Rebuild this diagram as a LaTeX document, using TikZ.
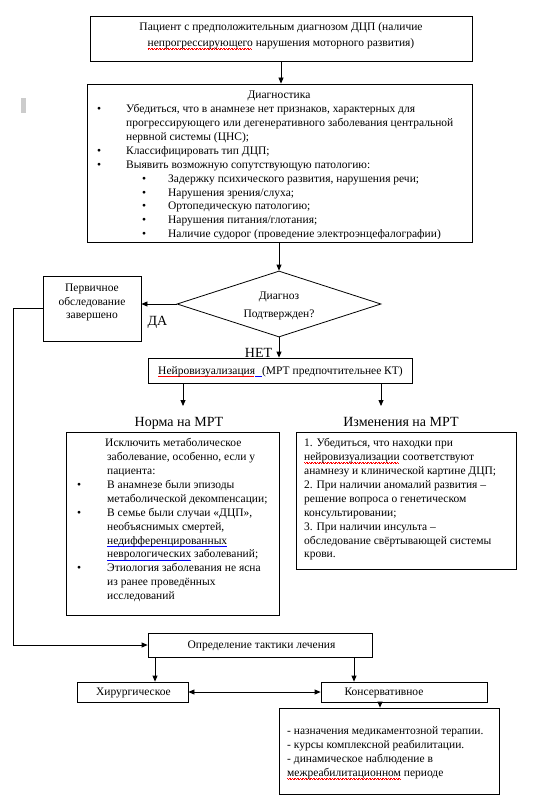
\documentclass[tikz,border=0pt]{standalone}
\usepackage{fontspec}
\setmainfont{Liberation Serif}
\usepackage{xcolor}
\usetikzlibrary{shapes.geometric,arrows.meta,positioning}
\newcommand{\wavy}[2]{\leavevmode\setbox0\hbox{#2}\rlap{\color{#1}\hbox to \wd0{\leaders\hbox{\rule[-2.2pt]{0.8pt}{0.4pt}\rule[-2.8pt]{0.8pt}{0.4pt}}\hfill}}\box0\relax}
\newcommand{\redwave}{\wavy{red}}
\newcommand{\bluewave}{\wavy{blue}}
\newcommand{\lbul}[1]{\makebox[#1][l]{\textbullet}}

\begin{document}
\begin{tikzpicture}[x=1pt,y=-1pt,
            box/.style={draw,line width=0.8pt,inner sep=0pt},
            txt/.style={inner sep=0pt,font=\fontsize{11.5}{13.9}\selectfont,align=left},
            ttl/.style={inner sep=0pt,font=\fontsize{14}{16}\selectfont},
            arr/.style={-{Triangle[length=6pt,width=5pt]},line width=0.8pt},
            arrb/.style={{Triangle[length=6pt,width=5pt]}-{Triangle[length=6pt,width=5pt]},line width=0.8pt}]
            \useasboundingbox (0,0) rectangle (541,799);
            %Mark
            \fill[gray!40] (20.7,98) rectangle (26,113);
            %Top
            \node[box,minimum width=382,minimum height=45] (pat) at (281,38.5) {};
            \node[txt,align=center,font=\fontsize{11.5}{15.5}\selectfont,anchor=north] (pattxt) at (281,19.6)
                {\strut Пациент с предположительным диагнозом ДЦП (наличие\\
                 \redwave{непрогрессирующего} нарушения моторного развития)};
            %Diagnostics
            \node[box,minimum width=385,minimum height=158] (diag) at (279.5,163) {};
            \node[txt,anchor=base] (diagttl) at (279,98.5) {Диагностика};
            \begin{scope}
                \clip (diag.north west) rectangle ([yshift=3.5pt]diag.south east);
                \node[txt,anchor=north west] (diaglist) at (97,102.7)
                    {\strut\lbul{29pt}Убедиться, что в анамнезе нет признаков, характерных для\\
                     \hspace*{29pt}прогрессирующего или дегенеративного заболевания центральной\\
                     \hspace*{29pt}нервной системы (ЦНС);\\
                     \lbul{29pt}Классифицировать тип ДЦП;\\
                     \lbul{29pt}Выявить возможную сопутствующую патологию:\\
                     \hspace*{45pt}\lbul{26pt}Задержку психического развития, нарушения речи;\\
                     \hspace*{45pt}\lbul{26pt}Нарушения зрения/слуха;\\
                     \hspace*{45pt}\lbul{26pt}Ортопедическую патологию;\\
                     \hspace*{45pt}\lbul{26pt}Нарушения питания/глотания;\\
                     \hspace*{45pt}\lbul{26pt}Наличие судорог (проведение электроэнцефалографии)};
            \end{scope}
            %Decision
            \node[draw,diamond,line width=0.8pt,inner sep=0pt,minimum width=204,minimum height=66] (dx) at (279,304) {};
            \node[txt,align=center,font=\fontsize{11.5}{18}\selectfont] (dxtxt) at (279,306) {Диагноз\\Подтвержден?};
            \node[box,minimum width=98,minimum height=65] (perv) at (92,308.5) {};
            \node[txt,align=center,font=\fontsize{11.5}{13.5}\selectfont,anchor=north] (pervtxt) at (92,282)
                {\strut Первичное\\обследование\\завершено};
            \node[ttl,anchor=base] (yes) at (157.5,325.6) {ДА};
            \node[ttl,anchor=base] (no) at (258.5,357.6) {НЕТ};
            %Imaging
            \node[box,minimum width=264,minimum height=25] (neiro) at (280,370.5) {};
            \node[txt,anchor=base] (neirotxt) at (280.5,374)
                {\redwave{Нейровизуализация}\bluewave{\hspace{7pt}}(МРТ предпочтительнее КТ)};
            \node[ttl,anchor=base] (normlbl) at (179,426.5) {Норма на МРТ};
            \node[ttl,anchor=base] (izmlbl) at (401,426.5) {Изменения на МРТ};
            \node[box,minimum width=213,minimum height=183] (norm) at (172.5,523.5) {};
            \node[txt,anchor=north west] (normtxt) at (77,436.8)
                {\strut\hspace*{28pt}Исключить метаболическое\\
                 \hspace*{30pt}заболевание, особенно, если у\\
                 \hspace*{30pt}пациента:\\
                 \lbul{30pt}В анамнезе были эпизоды\\
                 \hspace*{30pt}метаболической декомпенсации;\\
                 \lbul{30pt}В семье были случаи «ДЦП»,\\
                 \hspace*{30pt}необъяснимых смертей,\\
                 \hspace*{30pt}\bluewave{недифференцированных}\\
                 \hspace*{30pt}\bluewave{неврологических} заболеваний;\\
                 \lbul{30pt}Этиология заболевания не ясна\\
                 \hspace*{30pt}из ранее проведённых\\
                 \hspace*{30pt}исследований};
            \node[box,minimum width=220,minimum height=137] (izm) at (406,500.5) {};
            \node[txt,anchor=north west] (izmtxt) at (304,436.8)
                {\strut 1. Убедиться, что находки при\\
                 \redwave{нейровизуализации} соответствуют\\
                 анамнезу и клинической картине ДЦП;\\
                 2. При наличии аномалий развития –\\
                 решение вопроса о генетическом\\
                 консультировании;\\
                 3. При наличии инсульта –\\
                 обследование свёртывающей системы\\
                 крови.};
            %Treatment
            \node[box,minimum width=224,minimum height=24] (opred) at (260,645) {};
            \node[txt,anchor=base] (opredtxt) at (261.5,648.5) {Определение тактики лечения};
            \node[box,minimum width=111,minimum height=20] (hir) at (132.5,692) {};
            \node[txt,anchor=base] (hirtxt) at (133.5,695.5) {Хирургическое};
            \node[box,minimum width=166,minimum height=20] (kons) at (404,692) {};
            \node[txt,anchor=base] (konstxt) at (384,695.5) {Консервативное};
            \node[box,minimum width=220,minimum height=86] (lst) at (389,751) {};
            \node[txt,anchor=north west] (lsttxt) at (287,724.8)
                {\strut - назначения медикаментозной терапии.\\
                 - курсы комплексной реабилитации.\\
                 - динамическое наблюдение в\\
                 \redwave{межреабилитационном} периоде};
            %Arrows
            \coordinate (nA) at (183,406);
            \coordinate (nB) at (381,406);
            \coordinate (lft) at (13,308.5);
            \coordinate (hA) at (155,682);
            \coordinate (kA) at (354,682);
            \coordinate (lA) at (380,708);
            \draw[arr] (pat.south) -- (pat.south |- diag.north);
            \draw[arr] (diag.south -| dx.north) -- (dx.north);
            \draw[arr] (dx.west) -- (dx.west -| perv.east);
            \draw[arr] (dx.south) -- (dx.south |- neiro.north);
            \draw[arr] (neiro.south -| nA) -- (nA);
            \draw[arr] (neiro.south -| nB) -- (nB);
            \draw[arr] (perv.west) -- (lft) |- (opred.west);
            \draw[arr] (opred.south -| hA) -- (hA |- hir.north);
            \draw[arr] (opred.south -| kA) -- (kA |- kons.north);
            \draw[arrb] (hir.east) -- (kons.west);
            \draw[arr] (kons.south -| lA) -- (lA |- lst.north);
        \end{tikzpicture}
\end{document}
